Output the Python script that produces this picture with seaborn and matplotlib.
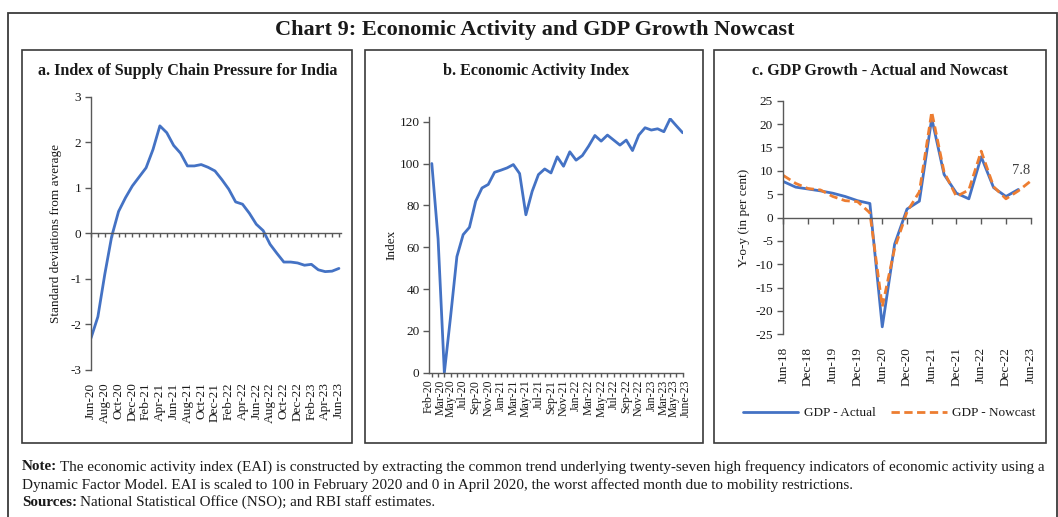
import numpy as np
import pandas as pd
import matplotlib
matplotlib.use("Agg")
import matplotlib.pyplot as plt
import seaborn as sns
from matplotlib.patches import Rectangle
from matplotlib.transforms import ScaledTranslation

# ---------------- data ----------------
# Panel a: Index of Supply Chain Pressure for India (Jun-20 .. Jun-23, monthly)
scp_months = list(pd.date_range("2020-06-01", "2023-06-01", freq="MS").strftime("%b-%y"))
scp_values = [-2.30, -1.83, -0.90, -0.07, 0.48, 0.78, 1.04, 1.24, 1.44, 1.84, 2.36, 2.21,
              1.93, 1.76, 1.48, 1.48, 1.51, 1.45, 1.37, 1.18, 0.97, 0.69, 0.64, 0.44,
              0.20, 0.06, -0.24, -0.44, -0.63, -0.63, -0.65, -0.70, -0.68, -0.80, -0.84,
              -0.83, -0.77]
scp_ticklabels = scp_months[::2]

# Panel b: Economic Activity Index (Feb-20 .. June-23, monthly)
eai_months = list(pd.date_range("2020-02-01", "2023-06-01", freq="MS").strftime("%b-%y"))
eai_months[-1] = "June-23"
eai_values = [100, 64, 0, 27, 55.5, 66, 69.5, 82, 88.3, 90, 95.8, 96.8, 97.9, 99.5, 95.2,
              75.5, 86.7, 94.7, 97.4, 95.5, 103.2, 98.7, 105.6, 101.6, 103.8, 108.3, 113.4,
              110.7, 113.6, 111.2, 108.8, 111.2, 106.2, 113.6, 117.1, 116.0, 116.6, 115.2,
              121.4, 118.0, 114.7]
eai_tick_idx = [0] + list(range(1, 40, 2)) + [40]

# Panel c: GDP growth, actual and nowcast (Jun-18 .. Jun-23, quarterly)
gdp_quarters = list(pd.date_range("2018-06-01", "2023-06-01", freq="3MS").strftime("%b-%y"))
gdp_actual = [7.7, 6.5, 6.1, 5.7, 5.2, 4.5, 3.6, 3.0, -23.4, -5.7, 1.8, 3.5, 21.2, 9.2,
              5.2, 4.0, 13.0, 6.4, 4.5, 6.0, np.nan]
gdp_nowcast = [9.0, 7.3, 6.2, 5.9, 4.5, 3.6, 3.4, 1.0, -19.1, -6.6, 1.2, 5.5, 22.6, 9.7,
               4.5, 5.9, 14.2, 6.6, 4.0, 5.7, 7.8]
gdp_ticklabels = gdp_quarters[::2]
nowcast_label = "7.8"

# ---------------- style ----------------
sns.set_theme(style="white")
plt.rcParams["font.family"] = ["Liberation Serif", "DejaVu Serif"]
plt.rcParams["axes.linewidth"] = 1.0
plt.rcParams["axes.unicode_minus"] = False

W, H = 1058, 517
fig = plt.figure(figsize=(W / 100, H / 100), dpi=100)
fig.patch.set_facecolor("white")

BLUE = "#4472C4"
ORANGE = "#ED7D31"
AXC = "#595959"
TXT = "#1a1a1a"


def px_axes(left, top, right, bottom):
    return fig.add_axes([left / W, 1 - bottom / H, (right - left) / W, (bottom - top) / H])


def fbox(left, top, right, bottom, lw=1.2, color="#3a3a3a"):
    fig.patches.append(Rectangle((left / W, 1 - bottom / H), (right - left) / W,
                                 (bottom - top) / H, transform=fig.transFigure,
                                 fill=False, lw=lw, ec=color))


# frames
fbox(8, 13, 1057, 530, lw=1.3)
fbox(22, 50, 352, 443)
fbox(365, 50, 703, 443)
fbox(714, 50, 1046, 443)

fig.text(535 / W, 1 - 30 / H, "Chart 9: Economic Activity and GDP Growth Nowcast",
         ha="center", va="center", fontsize=16, fontweight="bold", color=TXT)
fig.text(188 / W, 1 - 71 / H, "a. Index of Supply Chain Pressure for India",
         ha="center", va="center", fontsize=11.6, fontweight="bold", color=TXT)
fig.text(536 / W, 1 - 71 / H, "b. Economic Activity Index",
         ha="center", va="center", fontsize=11.6, fontweight="bold", color=TXT)
fig.text(880 / W, 1 - 71 / H, "c. GDP Growth - Actual and Nowcast",
         ha="center", va="center", fontsize=11.6, fontweight="bold", color=TXT)


def style_common(ax):
    for s in ["top", "right"]:
        ax.spines[s].set_visible(False)
    ax.spines["left"].set_color(AXC)
    ax.spines["bottom"].set_color(AXC)
    ax.tick_params(axis="y", direction="out", length=4, width=1, color=AXC,
                   labelsize=9.5, labelcolor=TXT, pad=3, left=True)
    ax.set_facecolor("white")
    ax.grid(False)


# ---------------- panel a ----------------
axa = px_axes(91, 96.7, 341, 370)
xa = np.arange(len(scp_values))
sns.lineplot(x=xa, y=scp_values, ax=axa, color=BLUE, lw=2.0)
axa.set_xlim(0, 36.3)
axa.set_ylim(-3, 3)
axa.set_yticks([-3, -2, -1, 0, 1, 2, 3])
style_common(axa)
axa.spines["bottom"].set_position(("data", 0))
axa.set_xticks(xa)
axa.tick_params(axis="x", direction="out", length=3, width=1, color=AXC,
                labelbottom=False, bottom=True)
seca = axa.secondary_xaxis("bottom")
seca.set_xticks(xa[::2])
seca.set_xticklabels(scp_ticklabels, rotation=90, fontsize=9.5, color=TXT)
seca.tick_params(length=0, pad=9)
seca.spines["bottom"].set_visible(False)
axa.set_ylabel("Standard deviations from average", fontsize=9.5, color=TXT, labelpad=6)
axa.set_xlabel("")

# ---------------- panel b ----------------
axb = px_axes(429.3, 117.5, 683, 372.7)
xb = np.arange(len(eai_values))
sns.lineplot(x=xb, y=eai_values, ax=axb, color=BLUE, lw=2.0)
axb.set_xlim(-0.4, 40.05)
axb.set_ylim(0, 122)
axb.set_yticks([0, 20, 40, 60, 80, 100, 120])
style_common(axb)
axb.set_xticks(xb, minor=True)
axb.set_xticks(eai_tick_idx)
axb.set_xticklabels([eai_months[i] for i in eai_tick_idx], rotation=90, fontsize=8.6, color=TXT)
axb.tick_params(axis="x", which="both", direction="out", length=3, width=1, color=AXC,
                pad=2, bottom=True)
# nudge the two adjacent label pairs apart
labs = axb.get_xticklabels()
shifts = {0: -2.0, 1: 1.8, len(labs) - 2: -1.8, len(labs) - 1: 2.0}
for k, dx in shifts.items():
    labs[k].set_transform(labs[k].get_transform() +
                          ScaledTranslation(dx / 72, 0, fig.dpi_scale_trans))
axb.set_ylabel("Index", fontsize=9.5, color=TXT)
axb.yaxis.set_label_coords(-0.125, 0.5)
axb.set_xlabel("")

# ---------------- panel c ----------------
axc = px_axes(782.7, 100.7, 1031.3, 334.3)
xc = np.arange(len(gdp_actual))
sns.lineplot(x=xc, y=gdp_actual, ax=axc, color=BLUE, lw=2.0, label="GDP - Actual")
sns.lineplot(x=xc, y=gdp_nowcast, ax=axc, color=ORANGE, lw=2.0, label="GDP - Nowcast")
axc.lines[1].set_dashes((3, 1.6))
axc.set_xlim(-0.05, 20.05)
axc.set_ylim(-25, 25)
axc.set_yticks(np.arange(-25, 26, 5))
style_common(axc)
axc.spines["bottom"].set_position(("data", 0))
axc.set_xticks(xc[::2])
axc.tick_params(axis="x", direction="out", length=4, width=1, color=AXC,
                labelbottom=False, bottom=True)
secc = axc.secondary_xaxis("bottom")
secc.set_xticks(xc[::2])
secc.set_xticklabels(gdp_ticklabels, rotation=90, fontsize=9.5, color=TXT)
secc.tick_params(length=0, pad=9)
secc.spines["bottom"].set_visible(False)
axc.set_ylabel("Y-o-y (in per cent)", fontsize=9.5, color=TXT, labelpad=4)
axc.set_xlabel("")
axc.annotate(nowcast_label, xy=(xc[-1], gdp_nowcast[-1]), xytext=(-7, 7.5),
             textcoords="offset points", ha="center", va="center", fontsize=10.5,
             color="#404040")
leg = axc.legend(loc="center", bbox_to_anchor=(889 / W, 1 - 413 / H),
                 bbox_transform=fig.transFigure, ncol=2, frameon=False, fontsize=9.5,
                 handlelength=4.2, columnspacing=1.2, handletextpad=0.4)
for t in leg.get_texts():
    t.set_color(TXT)

# ---------------- notes ----------------
note_fs = 10.9
r = fig.canvas.get_renderer()
t1 = fig.text(22 / W, 1 - 467 / H, "Note:", fontsize=note_fs, fontweight="bold",
              va="center", ha="left", color=TXT)
bb = t1.get_window_extent(renderer=r)
fig.text((22 + bb.width + 3) / W, 1 - 467 / H,
         "The economic activity index (EAI) is constructed by extracting the common trend "
         "underlying twenty-seven high frequency indicators of economic activity using a",
         fontsize=note_fs, va="center", ha="left", color=TXT)
fig.text(22 / W, 1 - 485 / H,
         "Dynamic Factor Model. EAI is scaled to 100 in February 2020 and 0 in April 2020, "
         "the worst affected month due to mobility restrictions.",
         fontsize=note_fs, va="center", ha="left", color=TXT)
t2 = fig.text(22 / W, 1 - 502 / H, "Sources:", fontsize=note_fs, fontweight="bold",
              va="center", ha="left", color=TXT)
bb2 = t2.get_window_extent(renderer=r)
fig.text((22 + bb2.width + 3) / W, 1 - 502 / H,
         "National Statistical Office (NSO); and RBI staff estimates.",
         fontsize=note_fs, va="center", ha="left", color=TXT)

fig.savefig("out.png", dpi=100, facecolor="white")
